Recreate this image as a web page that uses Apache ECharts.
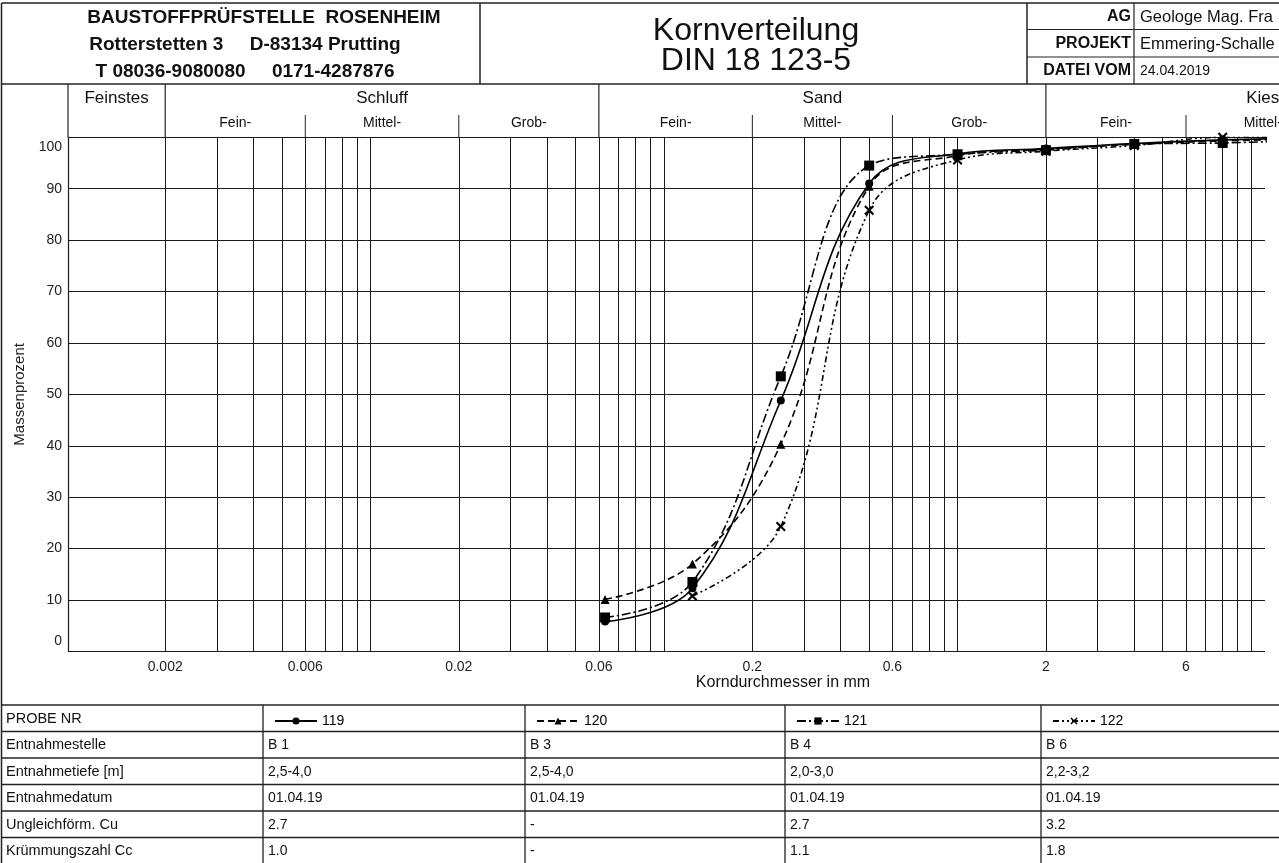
<!DOCTYPE html>
<html>
<head>
<meta charset="utf-8">
<title>Kornverteilung DIN 18 123-5</title>
<script src="https://cdn.jsdelivr.net/npm/echarts@6/dist/echarts.min.js"></script>
<style>
  html, body { margin: 0; padding: 0; background: #fff; }
  #chart { width: 1279px; height: 863px; }
</style>
</head>
<body>
<div id="chart"></div>
<script>
// Siebdurchmesser in mm (Messpunkte)
var sieveSizes = [0.063, 0.125, 0.25, 0.5, 1, 2, 4, 8, 16];
// Siebdurchgang in Massenprozent je Probe
var probe119 = [5.8, 12.3, 48.8, 91.0, 96.8, 97.8, 98.8, 99.5, 99.8];
var probe120 = [10.1, 17.0, 40.3, 90.5, 96.4, 97.7, 98.6, 99.3, 99.6];
var probe121 = [6.6, 13.5, 53.5, 94.5, 96.7, 97.5, 98.7, 98.9, 99.4];
var probe122 = [null, 10.8, 24.3, 85.8, 95.6, 97.3, 98.4, 100, 100];

var sampleNames = ['119', '120', '121', '122'];

// Gitterlinien und Beschriftung der log. Achse
var gridTicks = [0.002, 0.003, 0.004, 0.005, 0.006, 0.007, 0.008, 0.009,
  0.01, 0.02, 0.03, 0.04, 0.05, 0.06, 0.07, 0.08, 0.09,
  0.1, 0.2, 0.3, 0.4, 0.5, 0.6, 0.7, 0.8, 0.9,
  1, 2, 3, 4, 5, 6, 7, 8, 9, 10];
var labelTicks = [0.002, 0.006, 0.02, 0.06, 0.2, 0.6, 2, 6];
var xMin = 0.000933, xMax = 11.15;

// Bodenarten-Kopfzeile
var mainBands = [['Feinstes', xMin, 0.002], ['Schluff', 0.002, 0.06], ['Sand', 0.06, 2], ['Kies', 2, 60]];
var subBands = [['Fein-', 0.002, 0.006], ['Mittel-', 0.006, 0.02], ['Grob-', 0.02, 0.06],
  ['Fein-', 0.06, 0.2], ['Mittel-', 0.2, 0.6], ['Grob-', 0.6, 2],
  ['Fein-', 2, 6], ['Mittel-', 6, 20]];

// Tabelle
var rowLabels = ['PROBE NR', 'Entnahmestelle', 'Entnahmetiefe [m]', 'Entnahmedatum', 'Ungleichförm. Cu', 'Krümmungszahl Cc'];
var stelle = ['B 1', 'B 3', 'B 4', 'B 6'];
var tiefe = ['2,5-4,0', '2,5-4,0', '2,0-3,0', '2,2-3,2'];
var datum = ['01.04.19', '01.04.19', '01.04.19', '01.04.19'];
var cu = ['2.7', '-', '2.7', '3.2'];
var cc = ['1.0', '-', '1.1', '1.8'];

var FONT = "'Liberation Sans', Arial, sans-serif";

function pairs(vals) {
  var out = [];
  for (var i = 0; i < sieveSizes.length; i++) {
    if (vals[i] != null) out.push([sieveSizes[i], vals[i]]);
  }
  return out;
}

var crossSym = 'path://M0,1.5L1.5,0L5,3.5L8.5,0L10,1.5L6.5,5L10,8.5L8.5,10L5,6.5L1.5,10L0,8.5L3.5,5Z';

function mkSeries(name, vals, dash, symbol, size) {
  return {
    name: name,
    type: 'line',
    data: pairs(vals),
    smooth: 0.4,
    symbol: symbol,
    symbolSize: size,
    showAllSymbol: true,
    color: '#000',
    itemStyle: { color: '#000' },
    lineStyle: { color: '#000', width: 1.6, type: dash },
    clip: true,
    z: 5
  };
}

var chart = echarts.init(document.getElementById('chart'));

var colLeft = [263, 525, 785, 1041];

chart.setOption({
  animation: false,
  backgroundColor: '#fff',
  textStyle: { fontFamily: FONT },
  grid: { left: 68, right: 14, top: 137.3, bottom: 211.6, containLabel: false },
  xAxis: {
    type: 'log',
    logBase: 10,
    min: xMin,
    max: xMax,
    axisLine: { show: false },
    axisTick: { show: false, customValues: gridTicks },
    axisLabel: {
      customValues: labelTicks,
      margin: 9,
      fontSize: 14,
      color: '#222',
      fontFamily: FONT,
      formatter: function (v) { return String(v); }
    },
    splitLine: { show: true, lineStyle: { color: '#1a1a1a', width: 1 } }
  },
  yAxis: {
    type: 'value',
    min: 0,
    max: 100,
    interval: 10,
    name: 'Massenprozent',
    nameLocation: 'middle',
    nameGap: 39,
    nameTextStyle: { fontSize: 15, color: '#222', fontFamily: FONT },
    axisLine: { show: true, lineStyle: { color: '#1a1a1a', width: 1.2 } },
    axisTick: { show: false },
    axisLabel: {
      fontSize: 14,
      color: '#222',
      margin: 6,
      fontFamily: FONT,
      padding: [3, 0, 3, 0],
      verticalAlignMaxLabel: 'top',
      verticalAlignMinLabel: 'bottom'
    },
    splitLine: { show: true, lineStyle: { color: '#1a1a1a', width: 1 } }
  },
  legend: sampleNames.map(function (n, i) {
    return {
      data: [n],
      left: colLeft[i] + 6,
      top: 709,
      itemWidth: 42,
      itemHeight: 9,
      itemGap: 0,
      selectedMode: false,
      textStyle: { fontSize: 14, color: '#000', fontFamily: FONT }
    };
  }),
  series: [
    mkSeries('119', probe119, 'solid', 'circle', 8),
    mkSeries('120', probe120, [7, 4], 'triangle', 9),
    mkSeries('121', probe121, [9, 3, 2, 3], 'rect', 10),
    mkSeries('122', probe122, [6, 3, 2, 3, 2, 3], crossSym, 10)
  ]
});

function px(v) { return chart.convertToPixel({ xAxisIndex: 0 }, v); }

var g = [];
function L(x1, y1, x2, y2, w) {
  g.push({ type: 'line', silent: true, z: 10,
    shape: { x1: x1, y1: y1, x2: x2, y2: y2 },
    style: { stroke: '#222', lineWidth: w || 1.3 } });
}
function T(text, x, y, size, align, bold) {
  var font = (bold ? 'bold ' : '') + size + 'px ' + FONT;
  g.push({ type: 'text', silent: true, z: 11, x: x, y: y,
    style: { text: text, font: font, fill: '#111',
      align: align || 'left', textAlign: align || 'left',
      verticalAlign: 'middle', textVerticalAlign: 'middle' } });
}

var W = 1279;
// Rahmen Kopf
L(1.5, 3, W, 3, 1.5);
L(1.5, 3, 1.5, 863, 1.5);
L(480, 3, 480, 84, 1.5);
L(1027, 3, 1027, 84, 1.5);
L(1134, 3, 1134, 84, 1.2);
L(1027, 29.5, W, 29.5, 1.2);
L(1027, 57, W, 57, 1.2);
L(1.5, 84, W, 84, 1.5);

T('BAUSTOFFPRÜFSTELLE  ROSENHEIM', 264, 18, 19, 'center', true);
T('Rotterstetten 3     D-83134 Prutting', 245, 45, 19, 'center', true);
T('T 08036-9080080     0171-4287876', 245, 72, 19, 'center', true);
T('Kornverteilung', 756, 31, 32, 'center');
T('DIN 18 123-5', 756, 61, 32, 'center');
T('AG', 1131, 17, 16, 'right', true);
T('PROJEKT', 1131, 44, 16, 'right', true);
T('DATEI VOM', 1131, 71, 16, 'right', true);
T('Geologe Mag. Fra', 1140, 17, 16.5, 'left');
T('Emmering-Schalle', 1140, 44, 16.5, 'left');
T('24.04.2019', 1140, 71, 14, 'left');

// Bodenarten-Kopfzeile
var x0 = px(xMin);
L(x0, 84, x0, 137.3, 1.2);
mainBands.forEach(function (b) {
  var a = px(b[1]), c = px(b[2]);
  T(b[0], (a + c) / 2, 98, 17, 'center');
});
[0.002, 0.06, 2].forEach(function (v) { var x = px(v); L(x, 84, x, 137.3, 1.2); });
subBands.forEach(function (b) {
  var a = px(b[1]), c = px(b[2]);
  T(b[0], (a + c) / 2, 123, 14, 'center');
});
[0.006, 0.02, 0.2, 0.6, 6].forEach(function (v) { var x = px(v); L(x, 115, x, 137.3, 1); });

// Achsentitel x
T('Korndurchmesser in mm', 783, 683, 16, 'center');

// Tabelle
var rowTop = 705, rowH = 26.5;
for (var r = 0; r <= rowLabels.length; r++) L(1.5, rowTop + r * rowH, W, rowTop + r * rowH, 1.3);
colLeft.forEach(function (x) { L(x, rowTop, x, 863, 1.3); });
var rows = [null, stelle, tiefe, datum, cu, cc];
rowLabels.forEach(function (lab, r) {
  var cy = rowTop + r * rowH + rowH / 2 + 0.5;
  T(lab, 6, cy, 14.5, 'left');
  if (rows[r]) {
    rows[r].forEach(function (v, i) { T(v, colLeft[i] + 5, cy, 14, 'left'); });
  }
});

chart.setOption({ graphic: g });
</script>
</body>
</html>
